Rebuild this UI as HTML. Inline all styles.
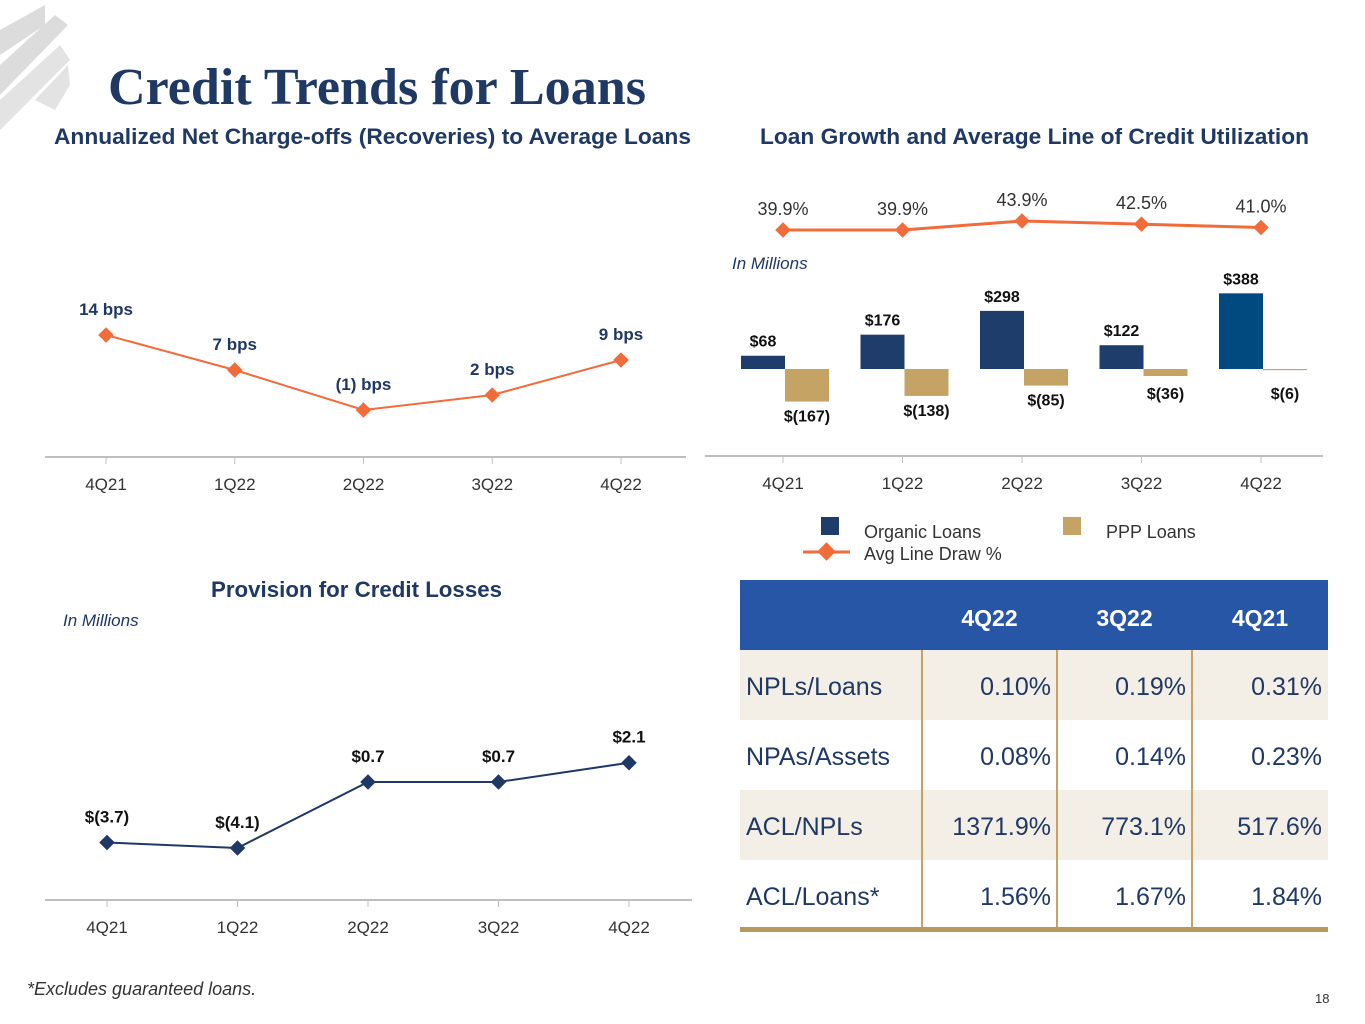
<!DOCTYPE html>
<html><head><meta charset="utf-8"><style>
body{margin:0;width:1365px;height:1024px;background:#fff;overflow:hidden;font-family:"Liberation Sans",sans-serif}
svg{position:absolute;left:0;top:0}
</style></head><body>
<svg width="1365" height="1024" font-family="Liberation Sans, sans-serif">
<g fill="#dcdcdc">
<polygon points="0,30 45,5 45,25 0,55"/>
<polygon points="0,65 55,15 68,25 0,95"/>
<polygon points="0,100 60,45 70,60 0,130" fill="#e3e3e3"/>
<polygon points="35,100 68,65 70,85 55,110" fill="#e3e3e3"/>
</g>
<text x="108" y="104" font-family="Liberation Serif, serif" font-size="52" font-weight="bold" fill="#1f3864" textLength="538" lengthAdjust="spacingAndGlyphs">Credit Trends for Loans</text>
<text x="54" y="144" font-size="22" font-weight="bold" fill="#1f3864" textLength="637" lengthAdjust="spacingAndGlyphs">Annualized Net Charge-offs (Recoveries) to Average Loans</text>
<text x="760" y="144" font-size="22" font-weight="bold" fill="#1f3864" textLength="549" lengthAdjust="spacingAndGlyphs">Loan Growth and Average Line of Credit Utilization</text>
<text x="211" y="597" font-size="22" font-weight="bold" fill="#1f3864" textLength="291" lengthAdjust="spacingAndGlyphs">Provision for Credit Losses</text>
<text x="63" y="626" font-size="17" font-style="italic" fill="#1f3864">In Millions</text>
<text x="732" y="269" font-size="17" font-style="italic" fill="#1f3864">In Millions</text>
<text x="27" y="995" font-size="18" font-style="italic" fill="#333">*Excludes guaranteed loans.</text>
<text x="1315" y="1003" font-size="13" fill="#333">18</text>
<g id="c1"></g><g id="c2"></g><g id="c3"></g>
<g>
<rect x="821" y="517" width="18" height="18" fill="#1f3d6b"/>
<text x="864" y="538" font-size="18" fill="#333">Organic Loans</text>
<rect x="1063" y="517" width="18" height="18" fill="#c4a364"/>
<text x="1106" y="538" font-size="18" fill="#333">PPP Loans</text>
<line x1="803" y1="552" x2="850" y2="552" stroke="#f26b3a" stroke-width="3"/>
<rect x="820" y="545" width="13" height="13" fill="#f26b3a" transform="rotate(45 826.5 551.5)"/>
<text x="864" y="560" font-size="18" fill="#333">Avg Line Draw %</text>
</g>
<g id="tbl"></g>
</svg>
<script>
const NS="http://www.w3.org/2000/svg";
function mk(p,t,a,txt){const e=document.createElementNS(NS,t);for(const k in a)e.setAttribute(k,a[k]);if(txt!==undefined)e.textContent=txt;p.appendChild(e);return e;}
const quarters=["4Q21","1Q22","2Q22","3Q22","4Q22"];
const ncoValues=[14,7,-1,2,9];
const ncoLabels=["14","7","(1)","2","9"];
const provisionValues=[-3.7,-4.1,0.7,0.7,2.1];
const provisionLabels=["$(3.7)","$(4.1)","$0.7","$0.7","$2.1"];
const organicValues=[68,176,298,122,388];
const pppValues=[-167,-138,-85,-36,-6];
const organicLabels=["$68","$176","$298","$122","$388"];
const pppLabels=["$(167)","$(138)","$(85)","$(36)","$(6)"];
const drawValues=[39.9,39.9,43.9,42.5,41.0];

function diamond(g,x,y,s,fill,name){
 const d=mk(g,"rect",{x:x-s/2,y:y-s/2,width:s,height:s,fill:fill,transform:`rotate(45 ${x} ${y})`});
 
 
}
function axis(g,x1,x2,y,xs,name){
 const l=mk(g,"line",{x1:x1,x2:x2,y1:y,y2:y,stroke:"#bfbfbf","stroke-width":2});
 
 
 xs.forEach((x,i)=>{mk(g,"line",{x1:x,x2:x,y1:y,y2:y+7,stroke:"#bfbfbf"});
  const t=mk(g,"text",{x:x,y:y+33,"text-anchor":"middle","font-size":17,fill:"#333"},quarters[i]);
  
  });
}
(function(){
 const g=document.getElementById("c1");
 const X=i=>106+i*128.75, Y=v=>405-v*5;
 axis(g,45,686,457,quarters.map((q,i)=>X(i)),'nco-x-axis');
 const p=mk(g,"polyline",{points:ncoValues.map((v,i)=>X(i)+","+Y(v)).join(" "),fill:"none",stroke:"#f26b3a","stroke-width":2});
 
 
 ncoValues.forEach((v,i)=>{diamond(g,X(i),Y(v),11,"#f26b3a",'nco-point');
  const t=mk(g,"text",{x:X(i),y:Y(v)-20,"text-anchor":"middle","font-size":17,"font-weight":"bold",fill:"#1f3864"},ncoLabels[i]+" bps");
  
  });
})();
(function(){
 const g=document.getElementById("c3");
 const X=i=>107+i*130.5, Y=v=>791.6-v*13.75;
 axis(g,45,692,900,quarters.map((q,i)=>X(i)),'provision-x-axis');
 const p=mk(g,"polyline",{points:provisionValues.map((v,i)=>X(i)+","+Y(v)).join(" "),fill:"none",stroke:"#1f3864","stroke-width":2});
 
 
 provisionValues.forEach((v,i)=>{diamond(g,X(i),Y(v),11,"#1f3864",'provision-point');
  const t=mk(g,"text",{x:X(i),y:Y(v)-20,"text-anchor":"middle","font-size":17,"font-weight":"bold",fill:"#111"},provisionLabels[i]);
  
  });
})();
(function(){
 const g=document.getElementById("c2");
 const X=i=>783+i*119.5, Yb=v=>369-v*0.195, Yl=v=>230-(v-39.9)*2.25;
 axis(g,705,1323,456,quarters.map((q,i)=>X(i)),'loan-x-axis');
 organicValues.forEach((v,i)=>{
  const b=mk(g,"rect",{x:X(i)-42,y:Math.min(Yb(v),Yb(0)),width:44,height:Math.abs(Yb(v)-Yb(0)),fill:i==4?"#004a80":"#1f3d6b"});
  
  
  const t=mk(g,"text",{x:X(i)-20,y:Yb(v)-9,"text-anchor":"middle","font-size":16,"font-weight":"bold",fill:"#111"},organicLabels[i]);
  
  
 });
 pppValues.forEach((v,i)=>{
  const b=mk(g,"rect",{x:X(i)+2,y:Yb(0),width:44,height:Math.abs(Yb(v)-Yb(0)),fill:"#c4a364"});
  
  
  const t=mk(g,"text",{x:X(i)+24,y:Math.max(Yb(v),Yb(0)+10)+20,"text-anchor":"middle","font-size":16,"font-weight":"bold",fill:"#111"},pppLabels[i]);
  
  
 });
 const p=mk(g,"polyline",{points:drawValues.map((v,i)=>X(i)+","+Yl(v)).join(" "),fill:"none",stroke:"#f26b3a","stroke-width":3});
 
 
 drawValues.forEach((v,i)=>{diamond(g,X(i),Yl(v),11,"#f26b3a",'line-draw-point');
  const t=mk(g,"text",{x:X(i),y:Yl(v)-15,"text-anchor":"middle","font-size":18,fill:"#333"},v.toFixed(1)+"%");
  
  });
})();
(function(){
 const g=document.getElementById("tbl");
 const rows=[["NPLs/Loans","0.10%","0.19%","0.31%"],["NPAs/Assets","0.08%","0.14%","0.23%"],["ACL/NPLs","1371.9%","773.1%","517.6%"],["ACL/Loans*","1.56%","1.67%","1.84%"]];
 const hdr=["4Q22","3Q22","4Q21"], cx=[922,1057,1192,1328];
 mk(g,"rect",{x:740,y:580,width:588,height:70,fill:"#2756a6"});
 hdr.forEach((h,i)=>{const t=mk(g,"text",{x:(cx[i]+cx[i+1])/2,y:626,"text-anchor":"middle","font-size":23,"font-weight":"bold",fill:"#fff"},h);
  
  });
 rows.forEach((r,j)=>{const y=650+j*70;
  mk(g,"rect",{x:740,y:y,width:588,height:70,fill:j%2==0?"#f4efe6":"#fff"});
  r.forEach((c,i)=>{const t=mk(g,"text",i==0?{x:746,y:y+45,"font-size":25,fill:"#1f3864"}:{x:cx[i]-6,y:y+45,"text-anchor":"end","font-size":25,fill:"#1f3864"},c);
   
   });});
 cx.slice(0,3).forEach(x=>mk(g,"line",{x1:x,x2:x,y1:650,y2:928,stroke:"#c4a364","stroke-width":2}));
 mk(g,"rect",{x:740,y:927,width:588,height:5,fill:"#b99a5d"});
})();
</script>
</body></html>
